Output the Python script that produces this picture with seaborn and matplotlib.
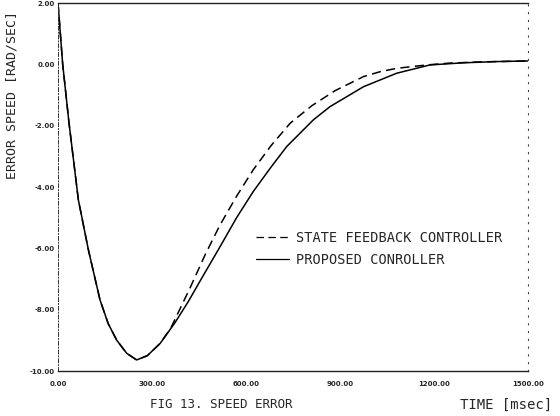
import numpy as np
import pandas as pd
import seaborn as sns
import matplotlib
matplotlib.use("Agg")
import matplotlib.pyplot as plt

# ---- data ----
time_solid = [0, 15, 35, 65, 97, 134, 160, 187, 219, 251, 285, 326, 373, 415, 460,
              517, 570, 623, 680, 730, 815, 868, 975, 1028, 1081, 1187, 1294, 1400, 1500]
err_solid = [2.0, 0.0, -1.9, -4.42, -6.05, -7.68, -8.45, -8.99, -9.42, -9.64, -9.5, -9.1,
             -8.43, -7.75, -6.95, -5.95, -5.0, -4.15, -3.35, -2.68, -1.81, -1.38, -0.73,
             -0.51, -0.29, -0.02, 0.05, 0.09, 0.11]

time_dash = [0, 15, 35, 65, 97, 134, 160, 187, 219, 251, 285, 326, 360, 421, 470,
             517, 570, 623, 680, 741, 810, 884, 975, 1028, 1081, 1177, 1250, 1350, 1500]
err_dash = [2.0, 0.0, -1.9, -4.42, -6.05, -7.68, -8.45, -8.99, -9.42, -9.64, -9.5, -9.1,
            -8.6, -7.3, -6.2, -5.24, -4.3, -3.44, -2.65, -1.92, -1.35, -0.86, -0.40,
            -0.24, -0.13, -0.02, 0.04, 0.08, 0.11]

label_dash = "STATE FEEDBACK CONTROLLER"
label_solid = "PROPOSED CONROLLER"

xticks = [0, 300, 600, 900, 1200, 1500]
yticks = [2, 0, -2, -4, -6, -8, -10]
xticklabels = ["0.00", "300.00", "600.00", "900.00", "1200.00", "1500.00"]
yticklabels = ["2.00", "0.00", "-2.00", "-4.00", "-6.00", "-8.00", "-10.00"]

df = pd.concat([
    pd.DataFrame({"t": time_dash, "e": err_dash, "ctrl": label_dash}),
    pd.DataFrame({"t": time_solid, "e": err_solid, "ctrl": label_solid}),
], ignore_index=True)

sns.set_style("white")
plt.rcParams['font.family'] = ['DejaVu Sans Mono', 'DejaVu Sans']

fig = plt.figure(figsize=(5.6, 4.16), dpi=100)
ax = fig.add_axes([58/560, 1-371/416, (528-58)/560, (371-3)/416])

sns.lineplot(data=df, x="t", y="e", hue="ctrl", style="ctrl",
             palette={label_dash: "black", label_solid: "black"},
             dashes={label_dash: (6, 3.5), label_solid: ""},
             sort=False, estimator=None, linewidth=1.1, ax=ax)

ax.set_xlim(0, 1500)
ax.set_ylim(-10, 2)
ax.set_xticks(xticks)
ax.set_xticklabels(xticklabels, fontsize=5, fontweight="bold", family="DejaVu Sans")
ax.set_yticks(yticks)
ax.set_yticklabels(yticklabels, fontsize=5, fontweight="bold", family="DejaVu Sans")
ax.tick_params(axis="both", direction="in", length=3, width=0.8, color="black")
ax.tick_params(axis="x", pad=7)
ax.tick_params(axis="y", pad=2)
ax.set_xlabel("")
ax.set_ylabel("")

for side in ["top", "bottom"]:
    ax.spines[side].set_visible(True)
    ax.spines[side].set_color("#222222")
    ax.spines[side].set_linewidth(1.0)
ax.spines["left"].set_visible(True)
ax.spines["left"].set_linestyle((0, (4, 2, 1, 2)))
ax.spines["left"].set_linewidth(0.7)
ax.spines["left"].set_color("#333333")
ax.spines["right"].set_visible(True)
ax.spines["right"].set_linestyle((0, (1, 6)))
ax.spines["right"].set_linewidth(0.8)
ax.spines["right"].set_color("#444444")

leg = ax.legend(loc="upper left", bbox_to_anchor=(0.395, 0.415), frameon=False,
                handlelength=2.4, handletextpad=0.55, labelspacing=0.6,
                prop={"family": "DejaVu Sans Mono", "size": 9.8}, title=None)
for line in leg.get_lines():
    line.set_linewidth(0.9)

fig.text(12/560, 1-95/416, "ERROR SPEED [RAD/SEC]", rotation=90, ha="center",
         va="center", fontsize=9.5)
fig.text(221/560, 1-405/416, "FIG 13. SPEED ERROR", ha="center", va="center",
         fontsize=9)
fig.text(506/560, 1-405/416, "TIME [msec]", ha="center", va="center", fontsize=10)

fig.savefig("out.png", dpi=100)
